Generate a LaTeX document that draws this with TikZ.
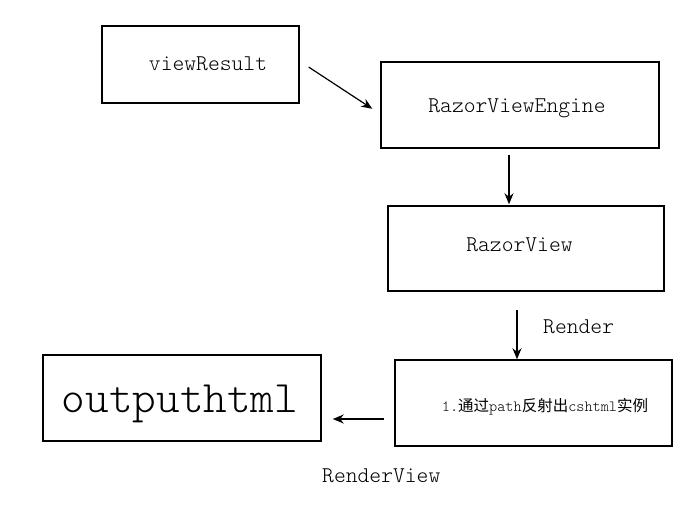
\documentclass[tikz,border=0pt]{standalone}
\usepackage{fontspec}
\usepackage{tikz}
\usetikzlibrary{positioning,arrows.meta}
\setmonofont{Latin Modern Mono Light}
\newfontfamily\cjk{Noto Sans CJK SC}
\tikzset{
  >={Stealth[length=11pt,width=9pt]},
}

\begin{document}
\begin{tikzpicture}[
  x=1pt,y=-1pt,
  box/.style={draw, line width=1.5pt, inner sep=0pt},
  lbl/.style={anchor=base, inner sep=0pt, font=\ttfamily\fontsize{22.5}{26}\selectfont},
  link/.style={->, line width=1.2pt}
]
\useasboundingbox (0,0) rectangle (683,512);

\node[box, minimum width=197pt, minimum height=77pt] (vr) at (200.5,64.5) {};
\node[lbl] (tvr) at (vr.center) [xshift=7.5pt, yshift=-5.5pt] {viewResult};

\node[box, minimum width=278pt, minimum height=86pt] (eng) at (520,105) {};
\node[lbl] (teng) at (eng.center) [xshift=-3pt, yshift=-7pt] {RazorViewEngine};

\node[box, minimum width=276pt, minimum height=85pt] (rv) at (526,248.5) {};
\node[lbl] (trv) at (rv.center) [xshift=-6.5pt, yshift=-2.5pt] {RazorView};

\node[box, minimum width=277pt, minimum height=86pt] (refl) at (533.5,403) {};
\node[lbl, font=\ttfamily\fontsize{15.5}{18}\selectfont] (trefl) at (refl.center) [xshift=11.5pt, yshift=-8pt]
  {1.{\cjk 通过}path{\cjk 反射出}cshtml{\cjk 实例}};

\node[box, minimum width=278pt, minimum height=86pt] (out) at (182,398) {};
\node[lbl, font=\ttfamily\fontsize{45}{50}\selectfont] (tout) at (out.center) [xshift=-2pt, yshift=-14pt] {outputhtml};

\node[lbl, anchor=base west] (lrender) at (543,333) {Render};
\node[lbl, anchor=base west] (lrview) at (322,482) {RenderView};

\draw[link, shorten <=10.7pt, shorten >=9.5pt] ([yshift=3.3pt]vr.east) -- ([yshift=-9pt]eng.west);
\draw[link, shorten <=6pt, shorten >=1pt] ([xshift=-11pt]eng.south) -- ([xshift=-17pt]rv.north);
\draw[link, shorten <=18pt] ([xshift=-9pt]rv.south) -- ([xshift=-16.5pt]refl.north);
\draw[link, shorten <=10pt, shorten >=11pt] ([yshift=-16pt]refl.west) -- ([yshift=-21pt]out.east);

\end{tikzpicture}
\end{document}
